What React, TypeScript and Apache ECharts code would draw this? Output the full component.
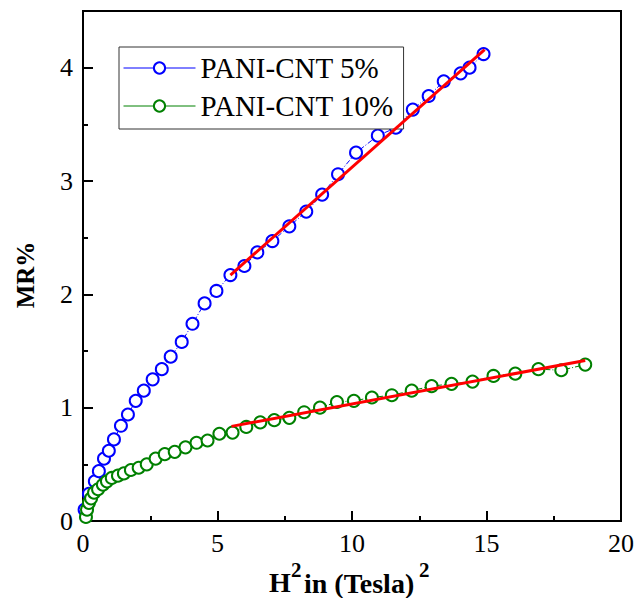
import React, { useEffect, useRef } from "react";
import * as echarts from "echarts";

const seriesNames = ["PANI-CNT 5%", "PANI-CNT 10%"];

const blueX = [0.06, 0.22, 0.44, 0.59, 0.78, 0.96, 1.15, 1.41, 1.67, 1.96, 2.26, 2.59, 2.93, 3.26, 3.67, 4.07, 4.52, 4.96, 5.48, 6.0, 6.48, 7.04, 7.67, 8.3, 8.89, 9.48, 10.15, 10.96, 11.63, 12.26, 12.85, 13.41, 14.04, 14.37, 14.89];
const blueY = [0.1, 0.24, 0.35, 0.44, 0.55, 0.62, 0.72, 0.84, 0.94, 1.06, 1.15, 1.25, 1.34, 1.45, 1.58, 1.74, 1.92, 2.03, 2.17, 2.25, 2.37, 2.47, 2.6, 2.73, 2.88, 3.06, 3.25, 3.4, 3.47, 3.63, 3.75, 3.88, 3.95, 4.0, 4.12];

const greenX = [0.11, 0.15, 0.22, 0.3, 0.41, 0.56, 0.74, 0.89, 1.07, 1.3, 1.52, 1.78, 2.07, 2.37, 2.7, 3.04, 3.41, 3.81, 4.22, 4.63, 5.07, 5.56, 6.07, 6.59, 7.11, 7.67, 8.22, 8.81, 9.44, 10.07, 10.74, 11.48, 12.22, 12.96, 13.7, 14.48, 15.26, 16.07, 16.93, 17.78, 18.67];
const greenY = [0.035, 0.1, 0.16, 0.2, 0.25, 0.28, 0.32, 0.35, 0.38, 0.4, 0.42, 0.45, 0.47, 0.5, 0.55, 0.59, 0.61, 0.65, 0.69, 0.71, 0.77, 0.78, 0.83, 0.87, 0.89, 0.91, 0.96, 1.0, 1.05, 1.06, 1.09, 1.11, 1.15, 1.19, 1.21, 1.23, 1.28, 1.3, 1.34, 1.33, 1.38];

const fit5X = [5.48, 14.93];
const fit5Y = [2.17, 4.16];
const fit10X = [5.52, 18.67];
const fit10Y = [0.835, 1.416];

const xTicks = [0, 5, 10, 15, 20];
const yTicks = [0, 1, 2, 3, 4];

const zip = (xs: number[], ys: number[]) => xs.map((x, i) => [x, ys[i]]);

const FONT = "Liberation Serif";

export default function App() {
  const ref = useRef<HTMLDivElement>(null);
  useEffect(() => {
    document.body.style.margin = "0";
    const chart = echarts.init(ref.current!, undefined, { renderer: "svg" });
    const left = 83, top = 11, right = 14, bottom = 77;
    chart.setOption({
      animation: false,
      backgroundColor: "#ffffff",
      grid: {
        left, top, right, bottom,
        show: true,
        borderColor: "#000",
        borderWidth: 2,
        backgroundColor: "transparent",
      },
      xAxis: {
        type: "value",
        min: xTicks[0],
        max: xTicks[xTicks.length - 1],
        interval: 5,
        axisLine: { show: true, onZero: false, lineStyle: { color: "#000", width: 2 } },
        axisTick: { show: true, inside: true, length: 10, lineStyle: { color: "#000", width: 2 } },
        minorTick: { show: true, splitNumber: 2, length: 5, lineStyle: { color: "#000", width: 2 } },
        splitLine: { show: false },
        axisLabel: { color: "#000", fontFamily: FONT, fontSize: 26, margin: 9 },
      },
      yAxis: [
        {
          type: "value",
          min: 0,
          max: 4.5,
          interval: 0.5,
          axisLine: { show: true, onZero: false, lineStyle: { color: "#000", width: 2 } },
          axisTick: { show: true, inside: true, length: 5, lineStyle: { color: "#000", width: 2 } },
          splitLine: { show: false },
          axisLabel: {
            color: "#000",
            fontFamily: FONT,
            fontSize: 26,
            margin: 10,
            formatter: (v: number) => (yTicks.includes(v) ? String(v) : ""),
          },
        },
        {
          type: "value",
          position: "left",
          min: 0,
          max: 4.5,
          interval: 1,
          axisLine: { show: false },
          axisTick: { show: true, inside: true, length: 10, lineStyle: { color: "#000", width: 2 } },
          splitLine: { show: false },
          axisLabel: { show: false },
        },
      ],
      legend: {
        data: seriesNames,
        orient: "vertical",
        left: 119,
        top: 47,
        itemWidth: 72,
        itemHeight: 14,
        itemGap: 8,
        padding: [6, 10, 8, 4],
        backgroundColor: "#fff",
        borderColor: "#333",
        borderWidth: 1,
        borderRadius: 0,
        lineStyle: { type: "solid", width: 1 },
        textStyle: { color: "#000", fontFamily: FONT, fontSize: 29, lineHeight: 30 },
      },
      series: [
        {
          name: seriesNames[0],
          type: "line",
          data: zip(blueX, blueY),
          symbol: "emptyCircle",
          symbolSize: 12,
          color: "#0000ff",
          itemStyle: { color: "#0000ff", borderWidth: 2.2 },
          lineStyle: { color: "#0000ff", width: 1, type: [5, 2, 1, 2] },
          z: 3,
        },
        {
          name: seriesNames[1],
          type: "line",
          data: zip(greenX, greenY),
          symbol: "emptyCircle",
          symbolSize: 12,
          color: "#008000",
          itemStyle: { color: "#008000", borderWidth: 2.2 },
          lineStyle: { color: "#008000", width: 1, type: [5, 2, 1, 2] },
          z: 3,
        },
        {
          name: "fit5",
          type: "line",
          data: zip(fit5X, fit5Y),
          symbol: "none",
          lineStyle: { color: "#ff0000", width: 3 },
          z: 4,
        },
        {
          name: "fit10",
          type: "line",
          data: zip(fit10X, fit10Y),
          symbol: "none",
          lineStyle: { color: "#ff0000", width: 3 },
          z: 4,
        },
      ],
      graphic: [
        {
          type: "text",
          x: 25,
          y: 275,
          rotation: Math.PI / 2,
          style: {
            text: "MR%",
            fill: "#000",
            font: `bold 25px '${FONT}'`,
            align: "center",
            verticalAlign: "middle",
          },
        },
        {
          type: "text",
          x: 269,
          y: 582,
          style: { text: "H", fill: "#000", font: `bold 28px '${FONT}'`, align: "left", verticalAlign: "middle" },
        },
        {
          type: "text",
          x: 291,
          y: 570,
          style: { text: "2", fill: "#000", font: `bold 21px '${FONT}'`, align: "left", verticalAlign: "middle" },
        },
        {
          type: "text",
          x: 304,
          y: 583,
          style: { text: "in (Tesla)", fill: "#000", font: `bold 28px '${FONT}'`, align: "left", verticalAlign: "middle" },
        },
        {
          type: "text",
          x: 419,
          y: 570,
          style: { text: "2", fill: "#000", font: `bold 21px '${FONT}'`, align: "left", verticalAlign: "middle" },
        },
      ],
    });
    return () => chart.dispose();
  }, []);
  return <div ref={ref} style={{ width: 637, height: 598 }} />;
}
